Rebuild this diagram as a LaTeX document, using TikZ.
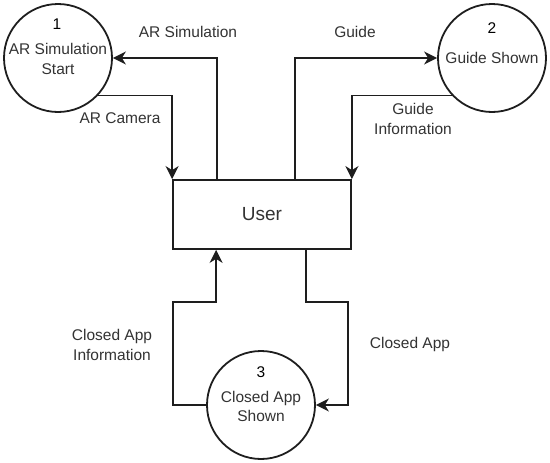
\documentclass[tikz,border=0pt]{standalone}
\usepackage{fontspec}
\setmainfont{Liberation Sans}
\usetikzlibrary{arrows.meta,calc}
\definecolor{ln}{HTML}{1E1E1E}
\definecolor{tx}{HTML}{333333}
\begin{document}
\begin{tikzpicture}[x=1pt,y=-1pt,
  proc/.style={draw=ln,line width=1.8pt,circle,minimum size=108pt,inner sep=0pt},
  ent/.style={draw=ln,line width=1.8pt,rectangle,minimum width=178pt,minimum height=69pt,inner sep=0pt},
  lbl/.style={text=tx,font=\fontsize{15.5}{19.5}\selectfont,align=center,inner sep=0pt},
  num/.style={text=black,font=\fontsize{15.5}{17}\selectfont,inner sep=0pt},
  arr/.style={draw=ln,line width=1.8pt,-{Stealth[length=13pt,width=13pt,inset=4pt]}},
  flow/.style={draw=ln,line width=1.8pt}]
\path[use as bounding box,fill=white] (0,0) rectangle (550,463);
\node[proc] (c1) at (58,58) {};
\node[proc] (c2) at (492,58) {};
\node[proc] (c3) at (261,405) {};
\node[ent] (user) at (262,214.5) {};
\node[text=tx,font=\fontsize{19}{22}\selectfont] (ut) at (user.center) {User};
\node[num] (n1) at (57,24) {1};
\node[lbl] (t1) at (58,59) {AR Simulation\\Start};
\node[num] (n2) at (492,28) {2};
\node[lbl] (t2) at (492,58) {Guide Shown};
\node[num] (n3) at (261,372) {3};
\node[lbl] (t3) at (261,406.5) {Closed App\\Shown};
\node[lbl] (l1) at (188,32) {AR Simulation};
\node[lbl] (l2) at (120,118) {AR Camera};
\node[lbl] (l3) at (355,32) {Guide};
\node[lbl] (l4) at (413,119) {Guide\\Information};
\node[lbl] (l5) at (112,345) {Closed App\\Information};
\node[lbl] (l6) at (410,344) {Closed App};
\coordinate (a1) at (173,302);
\coordinate (a2) at (348,302);
\draw[arr] ([xshift=45pt]user.north west) |- (c1);
\draw[arr] (c1.-43) -| (user.north west);
\draw[arr] ([xshift=123pt]user.north west) |- (c2);
\draw[arr] (c2.-137) -| (user.north east);
\draw[arr] (c3.west) -| (a1) -| ([xshift=44pt]user.south west);
\draw[arr] ([xshift=134pt]user.south west) |- (a2) |- (c3);
\end{tikzpicture}
\end{document}
